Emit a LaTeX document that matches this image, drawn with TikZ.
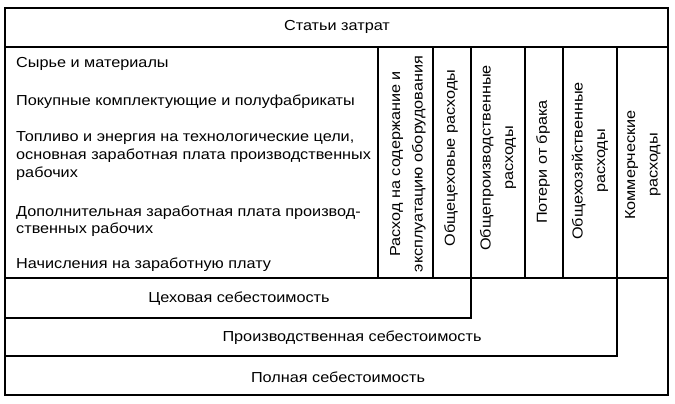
\documentclass[tikz,border=0pt]{standalone}
\usepackage{fontspec}
\setmainfont{Liberation Sans}[FakeStretch=1.12]
\begin{document}
\begin{tikzpicture}[x=1pt,y=-1pt,
  lbl/.style={font=\fontsize{14.5}{18}\selectfont,inner sep=0pt,anchor=base west},
  ctr/.style={font=\fontsize{14.5}{18}\selectfont,inner sep=0pt},
  vlbl/.style={font=\fontsize{14.5}{22.5}\selectfont,rotate=90,align=center,inner sep=0pt},
  frame/.style={draw,line width=1.6pt}]
\useasboundingbox (0,0) rectangle (675,404);
% outer frame and grid
\draw[frame] (5,8) rectangle (668,395);
\draw[frame] (5,47) -- (668,47);
\draw[frame] (5,278) -- (668,278);
\foreach \xx in {378,433,471,525,563,617}{\draw[frame] (\xx,47) -- (\xx,278);}
\draw[frame] (5,318) -- (471,318) -- (471,278);
\draw[frame] (5,356) -- (617,356) -- (617,278);
% header
\node[ctr] (head) at (337,27) {Статьи затрат};
% left items
\node[lbl] (i1) at (16,68) {Сырье и материалы};
\node[lbl] (i2) at (16,106) {Покупные комплектующие и полуфабрикаты};
\node[lbl] (i3a) at (16,141) {Топливо и энергия на технологические цели,};
\node[lbl] (i3b) at (16,159) {основная заработная плата производственных};
\node[lbl] (i3c) at (16,177) {рабочих};
\node[lbl] (i4a) at (16,216) {Дополнительная заработная плата производ-};
\node[lbl] (i4b) at (16,233) {ственных рабочих};
\node[lbl] (i5) at (16,268) {Начисления на заработную плату};
% vertical columns
\node[vlbl] (c1) at (408,164) {Расход на содержание и\\эксплуатацию оборудования};
\node[vlbl] (c2) at (451,158) {Общецеховые расходы};
\node[vlbl] (c3) at (498,158) {Общепроизводственные\\расходы};
\node[vlbl] (c4) at (543,162) {Потери от брака};
\node[vlbl] (c5) at (590,161) {Общехозяйственные\\расходы};
\node[vlbl] (c6) at (643,165) {Коммерческие\\расходы};
% bottom bands
\node[ctr] (t1) at (239,299) {Цеховая себестоимость};
\node[ctr] (t2) at (352,338) {Производственная себестоимость};
\node[ctr] (t3) at (338,377) {Полная себестоимость};
\end{tikzpicture}
\end{document}
